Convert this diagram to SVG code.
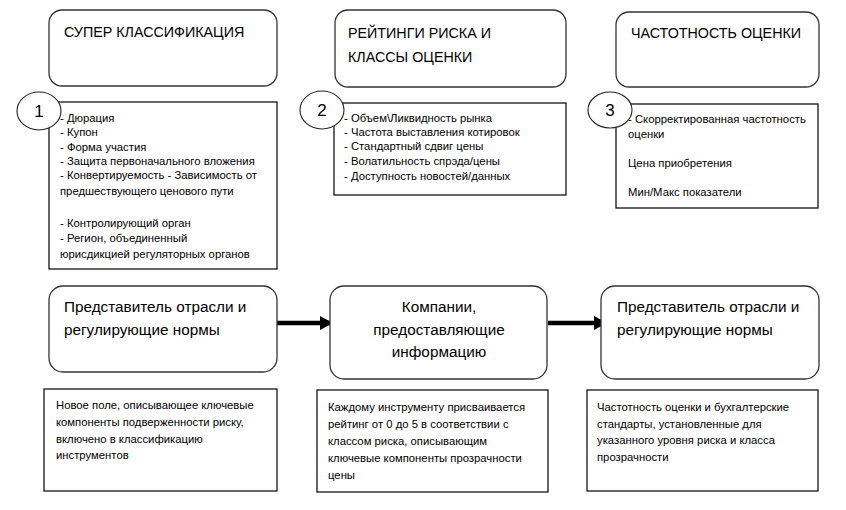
<svg xmlns="http://www.w3.org/2000/svg" width="846" height="510" viewBox="0 0 846 510">
<defs>
<style>
.rb{fill:#fff;stroke:#333;stroke-width:1.3}
.bx{fill:#fff;stroke:#000;stroke-width:1.2}
.ci{fill:#fff;stroke:#222;stroke-width:1.1}
.t{font-family:"Liberation Sans",Arial,sans-serif;fill:#000}
.h{font-size:14.3px}
.m{font-size:15.3px}
.s{font-size:11.3px}
.n{font-size:17px}
.ar{stroke:#000;stroke-width:4.5;fill:none}
</style>
<marker id="ah" markerUnits="userSpaceOnUse" markerWidth="14" markerHeight="14" refX="13" refY="7" orient="auto">
<path d="M0,0 L13,7 L0,14 Z" fill="#000"/>
</marker>
</defs>
<rect width="846" height="510" fill="#fff"/>

<g id="connectors">
<line class="ar" x1="277" y1="323" x2="333" y2="323" marker-end="url(#ah)"/>
<line class="ar" x1="548" y1="323" x2="607" y2="323" marker-end="url(#ah)"/>
</g>

<g id="super-class">
<rect class="rb" x="49" y="10" width="228" height="76" rx="13"/>
<text class="t h" x="64" y="37">СУПЕР КЛАССИФИКАЦИЯ</text>
</g>
<g id="list1">
<rect class="bx" x="49" y="102" width="228" height="167"/>
<text class="t s">
<tspan x="60" y="122">- Дюрация</tspan>
<tspan x="60" y="136">- Купон</tspan>
<tspan x="60" y="151">- Форма участия</tspan>
<tspan x="60" y="165">- Защита первоначального вложения</tspan>
<tspan x="60" y="179">- Конвертируемость - Зависимость от</tspan>
<tspan x="60" y="195">предшествующего ценового пути</tspan>
<tspan x="60" y="227">- Контролирующий орган</tspan>
<tspan x="60" y="242">- Регион, объединенный</tspan>
<tspan x="60" y="258">юрисдикцией регуляторных органов</tspan>
</text>
</g>
<g id="circle1">
<ellipse class="ci" cx="39" cy="111" rx="22" ry="19"/>
<text class="t n" x="39" y="117" text-anchor="middle">1</text>
</g>

<g id="risk-ratings">
<rect class="rb" x="335" y="10" width="231" height="77" rx="13"/>
<text class="t h"><tspan x="348" y="38">РЕЙТИНГИ РИСКА И</tspan><tspan x="348" y="62">КЛАССЫ ОЦЕНКИ</tspan></text>
</g>
<g id="list2">
<rect class="bx" x="334" y="103" width="232" height="92"/>
<text class="t s">
<tspan x="344" y="122">- Объем\Ликвидность рынка</tspan>
<tspan x="344" y="136">- Частота выставления котировок</tspan>
<tspan x="344" y="150">- Стандартный сдвиг цены</tspan>
<tspan x="344" y="165">- Волатильность спрэда/цены</tspan>
<tspan x="344" y="180">- Доступность новостей/данных</tspan>
</text>
</g>
<g id="circle2">
<ellipse class="ci" cx="322" cy="110" rx="22" ry="19"/>
<text class="t n" x="322" y="116" text-anchor="middle">2</text>
</g>

<g id="valuation-freq">
<rect class="rb" x="616" y="12" width="203" height="75" rx="13"/>
<text class="t h" x="631" y="38">ЧАСТОТНОСТЬ ОЦЕНКИ</text>
</g>
<g id="list3">
<rect class="bx" x="616" y="104" width="202" height="104"/>
<text class="t s">
<tspan x="628" y="123">- Скорректированная частотность</tspan>
<tspan x="628" y="138">оценки</tspan>
<tspan x="628" y="167">Цена приобретения</tspan>
<tspan x="628" y="196">Мин/Макс показатели</tspan>
</text>
</g>
<g id="circle3">
<ellipse class="ci" cx="610" cy="110" rx="22" ry="18"/>
<text class="t n" x="610" y="116" text-anchor="middle">3</text>
</g>

<g id="industry1">
<rect class="rb" x="49" y="286" width="228" height="86" rx="14"/>
<text class="t m"><tspan x="64" y="312">Представитель отрасли и</tspan><tspan x="64" y="335">регулирующие нормы</tspan></text>
</g>
<g id="note1">
<rect class="bx" x="44" y="389" width="233" height="102"/>
<text class="t s">
<tspan x="56" y="409">Новое поле, описывающее ключевые</tspan>
<tspan x="56" y="426">компоненты подверженности риску,</tspan>
<tspan x="56" y="443">включено в классификацию</tspan>
<tspan x="56" y="459">инструментов</tspan>
</text>
</g>

<g id="companies">
<rect class="rb" x="330" y="286" width="217" height="93" rx="14"/>
<text class="t m" text-anchor="middle"><tspan x="439" y="312">Компании,</tspan><tspan x="439" y="335">предоставляющие</tspan><tspan x="439" y="357">информацию</tspan></text>
</g>
<g id="note2">
<rect class="bx" x="317" y="390" width="231" height="102"/>
<text class="t s">
<tspan x="328" y="411">Каждому инструменту присваивается</tspan>
<tspan x="328" y="428">рейтинг от 0 до 5 в соответствии с</tspan>
<tspan x="328" y="445">классом риска, описывающим</tspan>
<tspan x="328" y="462">ключевые компоненты прозрачности</tspan>
<tspan x="328" y="479">цены</tspan>
</text>
</g>

<g id="industry2">
<rect class="rb" x="601" y="286" width="218" height="93" rx="14"/>
<text class="t m"><tspan x="617" y="312">Представитель отрасли и</tspan><tspan x="617" y="335">регулирующие нормы</tspan></text>
</g>
<g id="note3">
<rect class="bx" x="587" y="390" width="231" height="101"/>
<text class="t s">
<tspan x="597" y="411">Частотность оценки и бухгалтерские</tspan>
<tspan x="597" y="428">стандарты, установленные для</tspan>
<tspan x="597" y="444">указанного уровня риска и класса</tspan>
<tspan x="597" y="461">прозрачности</tspan>
</text>
</g>
</svg>
